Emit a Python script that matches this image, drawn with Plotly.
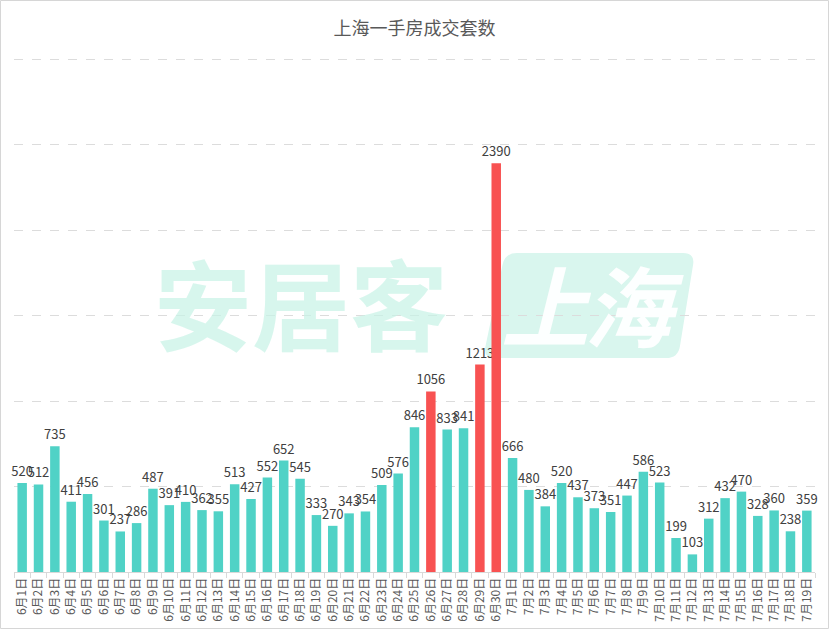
import plotly.graph_objs as go

# 上海一手房成交套数 6月1日 - 7月19日
june_days = list(range(1, 31))
july_days = list(range(1, 20))
june_sales = [520, 512, 735, 411, 456, 301, 237, 286, 487, 391,
              410, 362, 355, 513, 427, 552, 652, 545, 333, 270,
              343, 354, 509, 576, 846, 1056, 833, 841, 1213, 2390]
july_sales = [666, 480, 384, 520, 437, 373, 351, 447, 586, 523,
              199, 103, 312, 432, 470, 328, 360, 238, 359]
hot_days = ['6月26日', '6月29日', '6月30日']

dates = ['6月%d日' % d for d in june_days] + ['7月%d日' % d for d in july_days]
sales = june_sales + july_sales

TEAL = '#50d2c6'
RED = '#f85252'
colors = [RED if d in hot_days else TEAL for d in dates]

W, H = 829, 629
M_L, M_R, M_T, M_B = 14, 14, 54, 57
PW, PH = W - M_L - M_R, H - M_T - M_B
# 3000 sits on the y=59 px grid line, baseline at y=572
Y_TOP = 3000 * PH / (H - M_B - 59)


def px(x, y):
    # pixel -> paper coordinates (for the watermark only)
    return (x - M_L) / PW, (H - M_B - y) / PH


def rounded_poly(points, r):
    path = ''
    n = len(points)
    for i in range(n):
        p0, p1, p2 = points[i - 1], points[i], points[(i + 1) % n]
        d1 = ((p0[0] - p1[0]) ** 2 + (p0[1] - p1[1]) ** 2) ** 0.5
        d2 = ((p2[0] - p1[0]) ** 2 + (p2[1] - p1[1]) ** 2) ** 0.5
        a = (p1[0] + (p0[0] - p1[0]) * r / d1, p1[1] + (p0[1] - p1[1]) * r / d1)
        b = (p1[0] + (p2[0] - p1[0]) * r / d2, p1[1] + (p2[1] - p1[1]) * r / d2)
        a, c, b = px(*a), px(*p1), px(*b)
        path += ('M' if i == 0 else 'L') + ' %.4f,%.4f ' % a
        path += 'Q %.4f,%.4f %.4f,%.4f ' % (c[0], c[1], b[0], b[1])
    return path + 'Z'


def watermark(text, x, y, font):
    xp, yp = px(x, y)
    return dict(text=text, xref='paper', yref='paper', x=xp, y=yp,
                xanchor='center', yanchor='middle', showarrow=False, font=font)


trace = go.Bar(
    x=dates, y=sales,
    marker=dict(color=colors, line=dict(width=0)),
    text=[str(v) for v in sales],
    textposition='outside',
    constraintext='none',
    textfont=dict(size=13, color='#404040'),
    cliponaxis=False,
    hoverinfo='x+y',
)

wm_font = dict(size=88, color='rgba(255,255,255,0.95)', weight='bold', family='Noto Sans CJK SC')

layout = go.Layout(
    width=W, height=H,
    margin=dict(l=M_L, r=M_R, t=M_T, b=M_B, autoexpand=False),
    paper_bgcolor='white',
    plot_bgcolor='rgba(0,0,0,0)',
    font=dict(family='Noto Sans CJK SC, sans-serif', color='#595959'),
    title=dict(text='上海一手房成交套数', x=0.5, xanchor='center', y=0.955, yanchor='middle',
               font=dict(size=18, color='#595959')),
    bargap=0.42,
    showlegend=False,
    xaxis=dict(
        type='category', tickangle=-90, automargin=False,
        tickfont=dict(size=12, color='#595959'),
        ticks='outside', tickson='boundaries', ticklen=5, tickcolor='#d9d9d9',
        showline=True, linecolor='#d9d9d9', showgrid=False,
    ),
    yaxis=dict(
        range=[0, Y_TOP], tick0=0, dtick=500, showticklabels=False, automargin=False,
        showgrid=True, gridcolor='#dcdcdc', griddash='dash', gridwidth=1,
        zeroline=False,
    ),
    shapes=[
        dict(type='path', xref='paper', yref='paper', layer='below',
             path=rounded_poly([(505, 253), (695, 253), (678, 358), (483, 358)], 12),
             fillcolor='#d9f6ee', line=dict(width=0)),
        dict(type='rect', xref='paper', yref='paper', layer='above',
             x0=px(0.5, 0)[0], x1=px(828.5, 0)[0], y0=px(0, 628.5)[1], y1=px(0, 0.5)[1],
             line=dict(color='#d6d6d6', width=1), fillcolor='rgba(0,0,0,0)'),
    ],
    annotations=[
        watermark('安居客', 301, 300, dict(size=98, color='rgba(200,243,230,0.72)', weight='bold',
                                           family='Noto Sans CJK SC')),
        watermark('<i>上</i>', 546, 302, wm_font),
        watermark('<i>海</i>', 634, 302, wm_font),
    ],
)

fig = go.Figure(data=[trace], layout=layout)
# drop the default 8px page margin so the figure sits at the window's corner
fig.write_html('out.html', config={'displayModeBar': False},
               post_script="document.body.style.margin='0';")
